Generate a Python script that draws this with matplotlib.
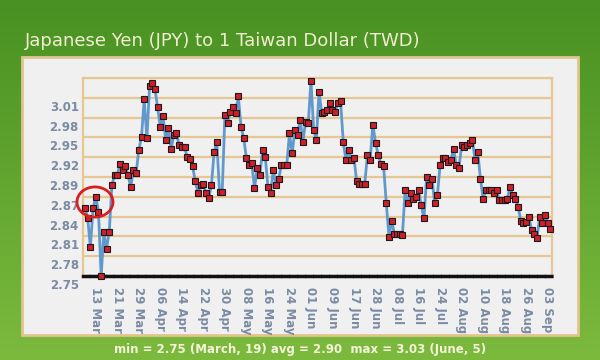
import numpy as np
import matplotlib.pyplot as plt
import matplotlib.transforms as mtransforms
from matplotlib.patches import Rectangle, Ellipse

# JPY per 1 TWD, daily
rates = [
    2.849, 2.834, 2.792, 2.849, 2.866, 2.844, 2.750, 2.814, 2.790, 2.814,
    2.883, 2.897, 2.897, 2.914, 2.905, 2.911, 2.897, 2.880, 2.905, 2.900,
    2.934, 2.953, 3.008, 2.951, 3.027, 3.031, 3.023, 2.996, 2.967, 2.983,
    2.949, 2.966, 2.935, 2.956, 2.958, 2.941, 2.939, 2.938, 2.924, 2.921,
    2.910, 2.888, 2.871, 2.883, 2.885, 2.871, 2.864, 2.883, 2.931, 2.945,
    2.873, 2.873, 2.985, 2.974, 2.989, 2.997, 2.988, 3.012, 2.968, 2.951,
    2.922, 2.912, 2.915, 2.878, 2.907, 2.897, 2.934, 2.924, 2.880, 2.871,
    2.905, 2.883, 2.892, 2.912, 2.912, 2.912, 2.958, 2.929, 2.963, 2.956,
    2.978, 2.946, 2.975, 2.973, 3.035, 2.963, 2.949, 3.019, 2.988, 2.990,
    2.992, 3.002, 2.992, 2.990, 3.002, 3.005, 2.946, 2.919, 2.934, 2.919,
    2.922, 2.888, 2.885, 2.885, 2.885, 2.927, 2.919, 2.971, 2.944, 2.927,
    2.914, 2.910, 2.856, 2.807, 2.831, 2.812, 2.812, 2.812, 2.810, 2.875,
    2.856, 2.871, 2.863, 2.866, 2.875, 2.853, 2.834, 2.895, 2.883, 2.892,
    2.856, 2.868, 2.912, 2.922, 2.922, 2.917, 2.919, 2.936, 2.912, 2.907,
    2.941, 2.939, 2.941, 2.944, 2.949, 2.919, 2.931, 2.892, 2.863, 2.875,
    2.875, 2.875, 2.871, 2.875, 2.861, 2.861, 2.861, 2.863, 2.880, 2.868,
    2.863, 2.851, 2.831, 2.827, 2.829, 2.836, 2.817, 2.812, 2.805, 2.836,
    2.827, 2.839, 2.827, 2.819,
]

date_labels = ["13 Mar", "21 Mar", "29 Mar", "06 Apr", "14 Apr", "22 Apr",
               "30 Apr", "08 May", "16 May", "24 May", "01 Jun", "09 Jun",
               "17 Jun", "28 Jun", "08 Jul", "16 Jul", "24 Jul", "02 Aug",
               "10 Aug", "18 Aug", "26 Aug", "03 Sep"]

y_labels = ["2.75", "2.78", "2.81", "2.84", "2.87", "2.89", "2.92",
            "2.95", "2.98", "3.01", ""]

stats = "min = 2.75 (March, 19) avg = 2.90  max = 3.03 (June, 5)"
title = "Japanese Yen (JPY) to 1 Taiwan Dollar (TWD)"

W, H = 600, 360
fig = plt.figure(figsize=(6, 3.6), dpi=100)

# green gradient background
bg = fig.add_axes([0, 0, 1, 1])
top_c = np.array([0x48, 0x91, 0x22]) / 255
bot_c = np.array([0x7c, 0xba, 0x3e]) / 255
t = np.linspace(0, 1, 256)[:, None]
grad = top_c * (1 - t) + bot_c * t
bg.imshow(grad[:, None, :], aspect='auto', extent=[0, 1, 0, 1])
bg.add_patch(Rectangle((22 / W, 1 - 335 / H), 556 / W, 278 / H,
                       facecolor='#f0f0f0', edgecolor='#e2c48e', lw=2))
bg.set_xlim(0, 1)
bg.set_ylim(0, 1)
bg.axis('off')

fig.text(25 / W, 1 - 41 / H, title, color='#f2eed2', fontsize=13,
         ha='left', va='center')
fig.text(0.5, 1 - 349 / H, stats, color='#f5f3d8', fontsize=8.5,
         fontweight='bold', ha='center', va='center')

ax = fig.add_axes([83 / W, 1 - 276 / H, 469 / W, 198 / H])
ax.patch.set_visible(False)

x = np.arange(len(rates))
ax.plot(x, rates, color='#6199cc', lw=2, marker='s', ms=3.8,
        mfc='#cf1f2a', mec='#1a1a1a', mew=0.8, zorder=4, clip_on=False)

ax.add_patch(Ellipse((3.7, 2.858), 13.4, 0.044, fill=False,
                     edgecolor='#d81e1e', lw=2, zorder=5, clip_on=False))

y_step = 0.0289
grid_vals = 2.75 + y_step * np.arange(len(y_labels))
ax.set_ylim(grid_vals[0], grid_vals[-1])
ax.set_xlim(-0.75, len(rates) - 0.4)
ax.set_yticks(grid_vals)
ax.set_yticklabels(y_labels)
ax.grid(axis='y', color='#e6c794', lw=1.6, zorder=1)

ax.set_xticks(4 + 8 * np.arange(len(date_labels)))
ax.set_xticklabels(date_labels, rotation=-90, ha='center', va='top')

ax.tick_params(length=0, colors='#7a8ba3')
ax.tick_params(axis='y', pad=3, labelsize=8.5)
ax.tick_params(axis='x', pad=8, labelsize=8.5)
for lab in ax.get_yticklabels():
    lab.set_fontweight('bold')
    lab.set_transform(lab.get_transform() +
                      mtransforms.ScaledTranslation(0, -0.08, fig.dpi_scale_trans))
for lab in ax.get_xticklabels():
    lab.set_fontweight('semibold')

for side in ['left', 'right', 'top']:
    ax.spines[side].set_color('#e6c794')
    ax.spines[side].set_linewidth(1.6)
ax.spines['bottom'].set_color('#111111')
ax.spines['bottom'].set_linewidth(2.5)
ax.spines['bottom'].set_linestyle((0, (1.5, 0.8)))
ax.spines['bottom'].set_zorder(3)

fig.savefig('out.png', dpi=100)
